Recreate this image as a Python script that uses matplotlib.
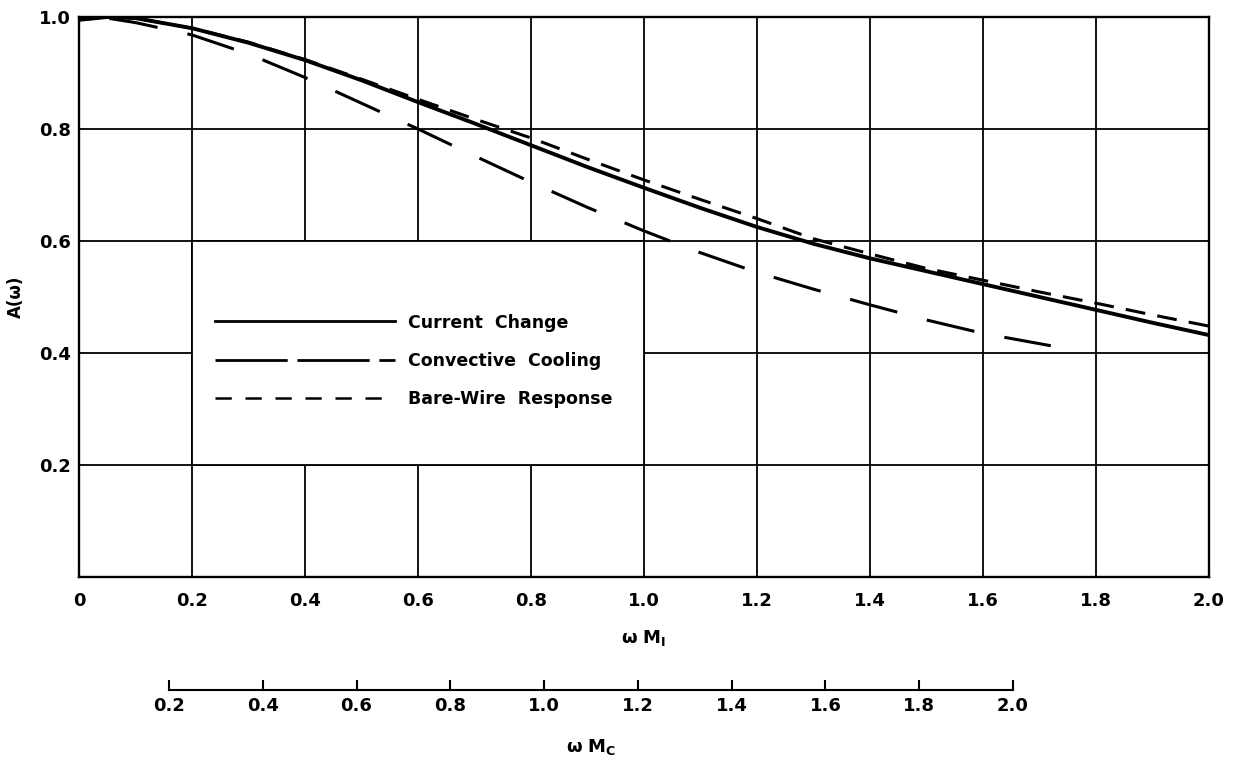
import matplotlib.pyplot as plt
from matplotlib.patches import Rectangle
from matplotlib.lines import Line2D

plt.rcParams['font.family'] = ['DejaVu Sans']
plt.rcParams['font.weight'] = 'bold'
plt.rcParams['mathtext.default'] = 'bf'

# values (omega*M_I on x, A(omega) on y)
omega = [0, 0.05, 0.1, 0.2, 0.3, 0.4, 0.5, 0.6, 0.7, 0.8, 0.9, 1.0,
         1.1, 1.2, 1.3, 1.4, 1.5, 1.6, 1.7, 1.8, 1.9, 2.0]
a_current = [0.995, 1.0, 0.998, 0.980, 0.954, 0.923, 0.887, 0.848, 0.810, 0.771, 0.732, 0.695,
             0.659, 0.625, 0.595, 0.569, 0.546, 0.523, 0.500, 0.477, 0.454, 0.432]
a_bare = [0.995, 1.0, 0.998, 0.980, 0.955, 0.924, 0.889, 0.853, 0.818, 0.784, 0.746, 0.709,
          0.674, 0.640, 0.604, 0.577, 0.551, 0.530, 0.509, 0.489, 0.468, 0.448]

omega_conv = [0, 0.05, 0.1, 0.2, 0.3, 0.4, 0.5, 0.6, 0.7, 0.8, 0.9, 1.0,
              1.1, 1.2, 1.3, 1.4, 1.5, 1.6, 1.72]
a_convective = [0.995, 0.998, 0.990, 0.968, 0.934, 0.892, 0.846, 0.800, 0.752, 0.705, 0.660, 0.618,
                0.579, 0.544, 0.514, 0.486, 0.459, 0.435, 0.413]

series_names = ['Current  Change', 'Convective  Cooling', 'Bare-Wire  Response']

x_ticks = [0, 0.2, 0.4, 0.6, 0.8, 1.0, 1.2, 1.4, 1.6, 1.8, 2.0]
x_labels = ['0', '0.2', '0.4', '0.6', '0.8', '1.0', '1.2', '1.4', '1.6', '1.8', '2.0']
y_ticks = [0.2, 0.4, 0.6, 0.8, 1.0]
y_labels = ['0.2', '0.4', '0.6', '0.8', '1.0']
mc_ticks = [0.2, 0.4, 0.6, 0.8, 1.0, 1.2, 1.4, 1.6, 1.8, 2.0]
mc_labels = ['0.2', '0.4', '0.6', '0.8', '1.0', '1.2', '1.4', '1.6', '1.8', '2.0']

W, H = 1243, 761
fig = plt.figure(figsize=(W / 100, H / 100), dpi=100)
ax = fig.add_axes([79 / W, 1 - 577 / H, (1209 - 79) / W, (577 - 17) / H])

ax.set_xlim(0, 2.0)
ax.set_ylim(0, 1.0)
ax.set_xticks(x_ticks)
ax.set_xticklabels(x_labels)
ax.set_yticks(y_ticks)
ax.set_yticklabels(y_labels)
ax.tick_params(length=0, labelsize=13)
ax.tick_params(axis='x', pad=11)
ax.tick_params(axis='y', pad=6)
for s in ax.spines.values():
    s.set_linewidth(1.7)

ax.grid(True, color='black', lw=1.3)
ax.set_axisbelow(True)
# blank panel behind the key
ax.add_patch(Rectangle((0.2, 0.2), 0.8, 0.4, facecolor='white', edgecolor='black', lw=1.3, zorder=1))

ls_conv = (16, (16, 10))
ls_bare = (0, (6.5, 4))
ax.plot(omega, a_current, color='black', lw=2.8, zorder=3, solid_capstyle='round')
ax.plot(omega_conv, a_convective, color='black', lw=2.2, ls=ls_conv, zorder=3)
ax.plot(omega, a_bare, color='black', lw=2.2, ls=ls_bare, zorder=3)

handles = [Line2D([], [], color='black', lw=2.0),
           Line2D([], [], color='black', lw=2.0, ls=(0, (26, 3.5))),
           Line2D([], [], color='black', lw=1.8, ls=(0, (6.5, 5.5)))]
ax.legend(handles, series_names, loc='upper left', bbox_to_anchor=(0.24, 0.4705),
          bbox_transform=ax.transData, frameon=False, handlelength=10.4,
          handletextpad=0.75, labelspacing=1.17, fontsize=12.5, borderpad=0, borderaxespad=0)

ax.set_ylabel('A(ω)', fontsize=12, fontweight='bold', labelpad=10)
ax.set_xlabel(r'$\omega\ M_I$', fontsize=13, labelpad=13)

# second scale underneath: omega*M_C
ax2 = fig.add_axes([169 / W, 1 - 690 / H, (1013 - 169) / W, 0.0001])
ax2.set_facecolor('none')
ax2.set_xlim(0.2, 2.0)
ax2.set_xticks(mc_ticks)
ax2.set_xticklabels(mc_labels)
ax2.set_yticks([])
for side in ['left', 'right', 'top']:
    ax2.spines[side].set_visible(False)
ax2.spines['bottom'].set_linewidth(1.5)
ax2.tick_params(axis='x', direction='in', length=7, width=1.5, labelsize=13, pad=5)
ax2.set_xlabel(r'$\omega\ M_C$', fontsize=13, labelpad=16)

fig.savefig('out.png', dpi=100)
